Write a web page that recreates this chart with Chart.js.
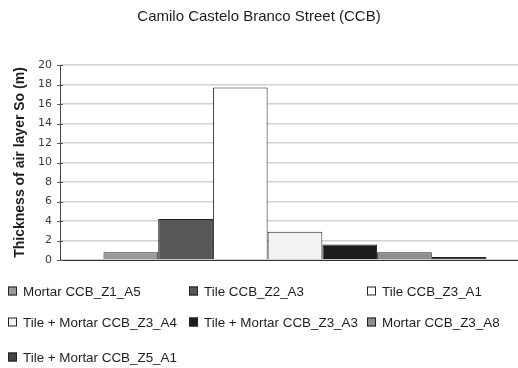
<!DOCTYPE html>
<html>
<head>
<meta charset="utf-8">
<script src="https://cdn.jsdelivr.net/npm/chart.js@4.4.1/dist/chart.umd.min.js"></script>
<style>
  html, body { margin: 0; padding: 0; background: #fff; overflow: hidden; }
  #wrap { position: relative; width: 518px; height: 368px; overflow: hidden; }
  #wrap canvas { position: absolute; left: 0; top: 0; }
  #legend { position: absolute; left: 0; top: 0; width: 518px; height: 368px; pointer-events: none;
            font-family: "Liberation Sans", Arial, sans-serif; font-size: 13.4px; color: #1e1e1e; }
  .item { position: absolute; display: flex; align-items: center; white-space: nowrap; transform: translateY(-50%); }
  .box { width: 7px; height: 7px; border: 1px solid #222; margin-right: 6px; }
</style>
</head>
<body>
<div id="wrap">
  <canvas id="c" width="530" height="368"></canvas>
  <div id="legend"></div>
</div>
<script>
// Samples measured along Camilo Castelo Branco Street
const seriesNames = [
  'Mortar CCB_Z1_A5',
  'Tile CCB_Z2_A3',
  'Tile CCB_Z3_A1',
  'Tile + Mortar CCB_Z3_A4',
  'Tile + Mortar CCB_Z3_A3',
  'Mortar CCB_Z3_A8',
  'Tile + Mortar CCB_Z5_A1'
];
// Thickness of the air layer So (m), one value per sample
const thickness = [0.8, 4.2, 17.7, 2.9, 1.6, 0.8, 0.3];
const categories = [''];
const yTicks = [0, 2, 4, 6, 8, 10, 12, 14, 16, 18, 20];

const fills = ['#9a9a9a', '#575757', '#ffffff', '#f3f3f3', '#1c1c1c', '#8e8e8e', '#454545'];

const datasets = seriesNames.map((name, i) => ({
  label: name,
  data: [thickness[i]],
  backgroundColor: fills[i],
  borderColor: '#222',
  borderWidth: 1,
  borderSkipped: 'bottom',
  barPercentage: 1,
  categoryPercentage: 0.815
}));

// y-axis tick marks drawn across the axis line, both sides
const crossTicks = {
  id: 'crossTicks',
  afterDraw(c) {
    const y = c.scales.y, ctx = c.ctx, x0 = c.chartArea.left;
    ctx.save();
    ctx.strokeStyle = '#555';
    ctx.lineWidth = 1;
    y.ticks.forEach(t => {
      const py = Math.round(y.getPixelForValue(t.value)) + 0.5;
      ctx.beginPath();
      ctx.moveTo(x0 - 3, py);
      ctx.lineTo(x0 + 3, py);
      ctx.stroke();
    });
    ctx.restore();
  }
};

const chart = new Chart(document.getElementById('c'), {
  type: 'bar',
  data: { labels: categories, datasets },
  options: {
    responsive: false,
    animation: false,
    devicePixelRatio: 1,
    layout: { padding: { left: 0, right: 0, top: 0, bottom: 108 } },
    plugins: {
      legend: { display: false },
      tooltip: { enabled: false },
      title: {
        display: true,
        text: 'Camilo Castelo Branco Street (CCB)',
        color: '#1e1e1e',
        font: { family: 'Liberation Sans', size: 15, weight: 'normal' },
        padding: { top: 8, bottom: 39 },
        position: 'top',
        align: 'center',
        fullSize: true
      }
    },
    scales: {
      x: {
        grid: { display: false },
        border: { display: true, color: '#333', width: 1 },
        ticks: { display: false },
        afterFit(s) { s.height = 0; }
      },
      y: {
        min: 0, max: 20,
        afterBuildTicks(s) { s.ticks = yTicks.map(v => ({ value: v })); },
        afterFit(s) { s.width = 60; },
        grid: { color: '#d2d2d2', lineWidth: 1.5, drawTicks: true, tickLength: 6, tickColor: 'rgba(0,0,0,0)' },
        border: { display: true, color: '#444', width: 1 },
        ticks: { color: '#3a3a3a', padding: 2, font: { family: 'DejaVu Sans', size: 11 } },
        title: {
          display: true,
          text: 'Thickness of air layer So (m)',
          color: '#1e1e1e',
          font: { family: 'Liberation Sans', size: 14, weight: 'bold' },
          padding: { top: 12, bottom: 0 }
        }
      }
    }
  },
  plugins: [crossTicks, {
    id: 'centerTitle',
    afterLayout(c) {
      // keep the title centred on the visible 518px frame
      const t = c.titleBlock;
      if (t) { t.left = 0; t.width = 518; t.right = 518; }
    }
  }]
});

// HTML legend built from the chart's datasets, laid out in three columns
const colX = [8, 189, 367];
const rowY = [291, 322, 357];
const legend = document.getElementById('legend');
chart.data.datasets.forEach((ds, i) => {
  const el = document.createElement('div');
  el.className = 'item';
  el.style.left = colX[i % 3] + 'px';
  el.style.top = rowY[Math.floor(i / 3)] + 'px';
  const box = document.createElement('span');
  box.className = 'box';
  box.style.background = ds.backgroundColor;
  el.appendChild(box);
  el.appendChild(document.createTextNode(ds.label));
  legend.appendChild(el);
});
</script>
</body>
</html>
